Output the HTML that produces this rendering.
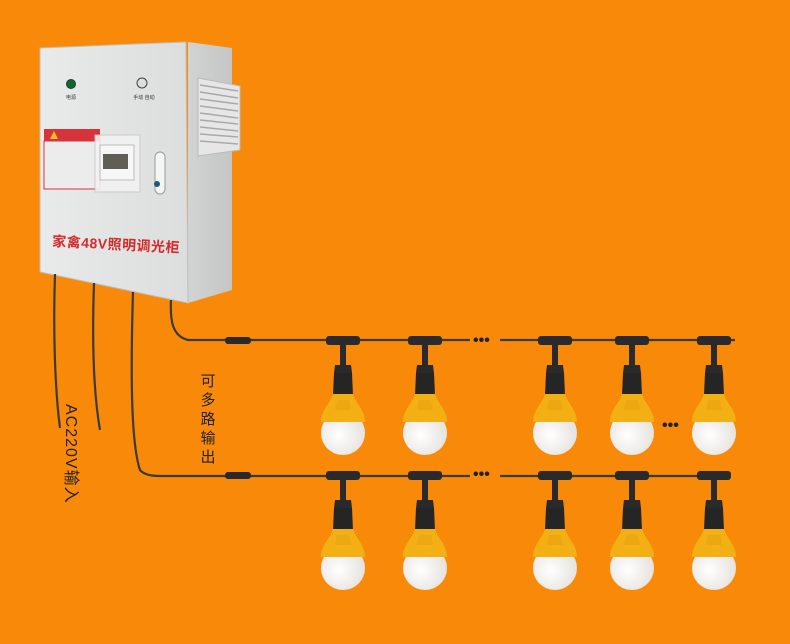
<!DOCTYPE html>
<html><head><meta charset="utf-8"><style>
html,body{margin:0;padding:0;background:#F98A09;}
svg{display:block}
text{font-family:"Liberation Sans","Noto Sans CJK SC",sans-serif}
</style></head><body>
<svg width="790" height="644" viewBox="0 0 790 644">
<defs>
<linearGradient id="fr" x1="0" x2="1"><stop offset="0" stop-color="#e9eaea"/><stop offset="1" stop-color="#dcdddd"/></linearGradient>
<linearGradient id="sd" x1="0" x2="1"><stop offset="0" stop-color="#d2d3d3"/><stop offset="1" stop-color="#c4c5c5"/></linearGradient>
<radialGradient id="bl" cx="0.4" cy="0.55" r="0.7"><stop offset="0" stop-color="#ffffff"/><stop offset="1" stop-color="#e2ded8"/></radialGradient>
<g id="bulb">
 <rect x="-17" y="-4" width="34" height="9" rx="3" fill="#2a2a2a"/>
 <path d="M-3 4 h6 v22 h-6z" fill="#2a2a2a"/>
 <path d="M-8 25 h16 l1 8 h-18z" fill="#2a2a2a"/>
 <path d="M-9 33 h18 l1 22 h-20z" fill="#252525"/>
 <circle cx="0" cy="93" r="22" fill="url(#bl)"/>
 <path d="M-10 54 L10 54 C13 64 22 70 22 82 L-22 82 C-22 70 -13 64 -10 54z" fill="#F2B015"/>
 <path d="M-6 60 h12 l2 10 h-16z" fill="#e9a20e" opacity="0.6"/>
</g>
</defs>
<!-- cabinet side -->
<polygon points="188,42 232,48 232,290 188,303" fill="url(#sd)"/>
<polygon points="198,78 240,86 240,150 198,156" fill="#e6e6e6" stroke="#bbb"/>
<g stroke="#a9a9a9" stroke-width="1.5">
<line x1="200" y1="85" x2="238" y2="91"/><line x1="200" y1="92" x2="238" y2="98"/><line x1="200" y1="99" x2="238" y2="104"/><line x1="200" y1="106" x2="238" y2="111"/><line x1="200" y1="113" x2="238" y2="118"/><line x1="200" y1="120" x2="238" y2="124"/><line x1="200" y1="127" x2="238" y2="131"/><line x1="200" y1="134" x2="238" y2="137"/><line x1="200" y1="141" x2="238" y2="144"/>
</g>
<!-- front -->
<polygon points="40,48 186,42 188,303 40,272" fill="url(#fr)" stroke="#bdbdbd"/>
<circle cx="71" cy="84" r="4.5" fill="#0a6a2a" stroke="#333"/>
<text x="71" y="99" font-size="5" text-anchor="middle" fill="#333">电源</text>
<circle cx="142" cy="83" r="5" fill="#ddd" stroke="#444"/>
<text x="144" y="99" font-size="5" text-anchor="middle" fill="#333">手动 自动</text>
<rect x="44" y="129" width="56" height="12" fill="#d8333a"/>
<path d="M50 139 l4-8 4 8z" fill="#f4c21a"/>
<rect x="44" y="141" width="56" height="48" fill="#ececec" stroke="#d8333a"/>
<rect x="95" y="135" width="45" height="57" fill="#f2f2f2" stroke="#c8c8c8" opacity="0.9"/>
<rect x="100" y="145" width="34" height="35" fill="#f7f7f7" stroke="#bbb"/>
<rect x="103" y="154" width="25" height="15" fill="#5f5f55"/>
<rect x="155" y="152" width="10" height="42" rx="5" fill="#f5f5f5" stroke="#999"/>
<circle cx="157" cy="184" r="3" fill="#1b5b73"/>
<text x="52" y="246" font-size="14" fill="#d42a2a" font-weight="bold" transform="rotate(3 52 246)" letter-spacing="0.5">家禽48V照明调光柜</text>
<!-- wires -->
<g fill="none" stroke="#3a3a3a" stroke-width="2.2">
<path d="M55 274 C53 330 55 390 60 428"/>
<path d="M94 283 C92 340 93 390 100 430"/>
<path d="M133 292 C131 360 130 440 140 470 Q145 476 160 476 L730 476"/>
<path d="M171 300 C170 320 172 336 188 340 L735 340"/>
</g>
<rect x="225" y="337" width="26" height="7" rx="3" fill="#2a2a2a"/>
<rect x="225" y="472" width="26" height="7" rx="3" fill="#2a2a2a"/>
<rect x="470" y="336" width="30" height="8" fill="#F98A09"/>
<rect x="470" y="472" width="30" height="8" fill="#F98A09"/>
<text x="473" y="345" font-size="16" font-weight="bold" fill="#222">•••</text>
<text x="473" y="479" font-size="16" font-weight="bold" fill="#222">•••</text>
<text x="662" y="430" font-size="16" font-weight="bold" fill="#222">•••</text>
<use href="#bulb" x="343" y="340"/><use href="#bulb" x="425" y="340"/><use href="#bulb" x="555" y="340"/><use href="#bulb" x="632" y="340"/><use href="#bulb" x="714" y="340"/>
<use href="#bulb" x="343" y="475"/><use href="#bulb" x="425" y="475"/><use href="#bulb" x="555" y="475"/><use href="#bulb" x="632" y="475"/><use href="#bulb" x="714" y="475"/>
<!-- labels -->
<text x="66" y="404" font-size="16" fill="#222" transform="rotate(90 66 404)" letter-spacing="1">AC220V输入</text>
<g font-size="15" fill="#222" text-anchor="middle">
<text x="208" y="386">可</text><text x="208" y="405">多</text><text x="208" y="424">路</text><text x="208" y="443">输</text><text x="208" y="462">出</text>
</g>
</svg>
</body></html>
